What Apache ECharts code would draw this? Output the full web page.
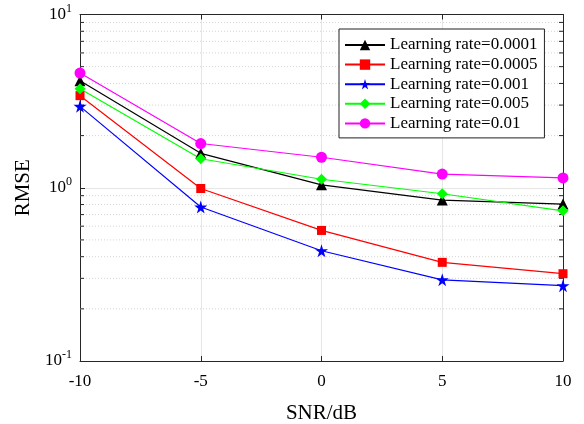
<!DOCTYPE html>
<html>
<head>
<meta charset="utf-8">
<script src="https://cdn.jsdelivr.net/npm/echarts@6/dist/echarts.min.js"></script>
<style>html,body{margin:0;padding:0;background:#fff}#c{width:584px;height:424px}</style>
</head>
<body>
<div id="c"></div>
<script>
var snr = [-10, -5, 0, 5, 10];
var lr0001 = [4.15, 1.58, 1.04, 0.849, 0.805];
var lr0005 = [3.40, 0.99, 0.567, 0.371, 0.319];
var lr001  = [2.95, 0.774, 0.433, 0.294, 0.272];
var lr005  = [3.73, 1.47, 1.12, 0.923, 0.736];
var lr01   = [4.59, 1.80, 1.50, 1.20, 1.14];
var names = ['Learning rate=0.0001','Learning rate=0.0005','Learning rate=0.001','Learning rate=0.005','Learning rate=0.01'];
var minorVals = [0.2,0.3,0.4,0.5,0.6,0.7,0.8,0.9,2,3,4,5,6,7,8,9];

var FONT = 'Liberation Serif';
var AX = '#262626';
var star = 'path://M50,0 L61,35 L98,35 L68,57 L79,91 L50,70 L21,91 L32,57 L2,35 L39,35 Z';

function pairs(arr){ return arr.map(function(v,i){ return [snr[i], v]; }); }
function mk(name, data, color, symbol, size){
  return {name:name, type:'line', data:pairs(data), symbol:symbol, symbolSize:size,
    showSymbol:true, itemStyle:{color:color}, lineStyle:{color:color, width:1.2}, z:5, animation:false};
}

var chart = echarts.init(document.getElementById('c'));
chart.setOption({
  animation:false,
  backgroundColor:'#fff',
  grid:{left:80, right:21, top:14.5, bottom:63, containLabel:false, outerBoundsMode:'none'},
  legend:{
    data:names, orient:'vertical', left:339, top:29,
    itemWidth:40, itemHeight:13, itemGap:2.6,
    padding:[7.5,7,6,5], borderColor:'#222', borderWidth:1, backgroundColor:'#fff',
    textStyle:{fontFamily:FONT, fontSize:17, lineHeight:17, color:'#000'}
  },
  xAxis:[{
    type:'value', min:-10, max:10, interval:5, name:'SNR/dB', nameLocation:'middle', nameGap:42,
    nameTextStyle:{fontFamily:FONT, fontSize:21, color:'#000'},
    axisLine:{onZero:false, lineStyle:{color:AX, width:1}}, axisTick:{inside:true, length:5, lineStyle:{color:AX}},
    axisLabel:{fontFamily:FONT, fontSize:17, color:'#000', margin:12},
    splitLine:{show:true, lineStyle:{color:'#e6e6e6', width:1}}
  },{
    type:'value', position:'top', min:-10, max:10, interval:5,
    axisLine:{show:true, onZero:false, lineStyle:{color:AX, width:1}}, axisTick:{show:true, inside:true, length:5, lineStyle:{color:AX}},
    axisLabel:{show:false}, splitLine:{show:false}
  }],
  yAxis:[{
    type:'log', logBase:10, min:0.1, max:10, name:'RMSE', nameLocation:'middle', nameGap:39, nameRotate:90,
    nameTextStyle:{fontFamily:FONT, fontSize:21, color:'#000'},
    axisLine:{show:true, onZero:false, lineStyle:{color:AX, width:1}}, axisTick:{inside:true, length:5, lineStyle:{color:AX}},
    axisLabel:{fontFamily:FONT, fontSize:17, color:'#000', margin:8,
      formatter:function(v){ var e=Math.round(Math.log10(v)); return '{b|10}{s|'+e+'}'; },
      rich:{b:{fontFamily:FONT, fontSize:17, color:'#000', padding:[0,0,0,0]},
            s:{fontFamily:FONT, fontSize:12, color:'#000', padding:[0,0,12,0]}}},
    splitLine:{show:true, lineStyle:{color:'#e6e6e6', width:1}}
  },{
    type:'log', logBase:10, min:0.1, max:10, position:'right',
    axisLine:{show:true, onZero:false, lineStyle:{color:AX, width:1}}, axisTick:{show:true, inside:true, length:5, lineStyle:{color:AX}},
    axisLabel:{show:false}, splitLine:{show:false}
  }],
  series:[
    {
      type:'custom', name:'minor', data:minorVals.map(function(v){return [0, v];}), silent:true, z:1,
      renderItem:function(params, api){
        var v = api.value(1);
        var a = api.coord([-10, v]), b = api.coord([10, v]);
        return {type:'group', children:[
          {type:'line', shape:{x1:a[0], y1:a[1], x2:b[0], y2:b[1]}, style:{stroke:'#d4d4d4', lineWidth:1, lineDash:[1,2]}},
          {type:'line', shape:{x1:a[0], y1:a[1], x2:a[0]+4, y2:a[1]}, style:{stroke:AX, lineWidth:1}},
          {type:'line', shape:{x1:b[0]-4, y1:b[1], x2:b[0], y2:b[1]}, style:{stroke:AX, lineWidth:1}}
        ]};
      }
    },
    mk(names[0], lr0001, '#000000', 'triangle', 11),
    mk(names[1], lr0005, '#ff0000', 'rect', 9),
    mk(names[2], lr001, '#0000ff', star, 13),
    mk(names[3], lr005, '#00ff00', 'diamond', 11),
    mk(names[4], lr01, '#ff00ff', 'circle', 11)
  ]
});
</script>
</body>
</html>
